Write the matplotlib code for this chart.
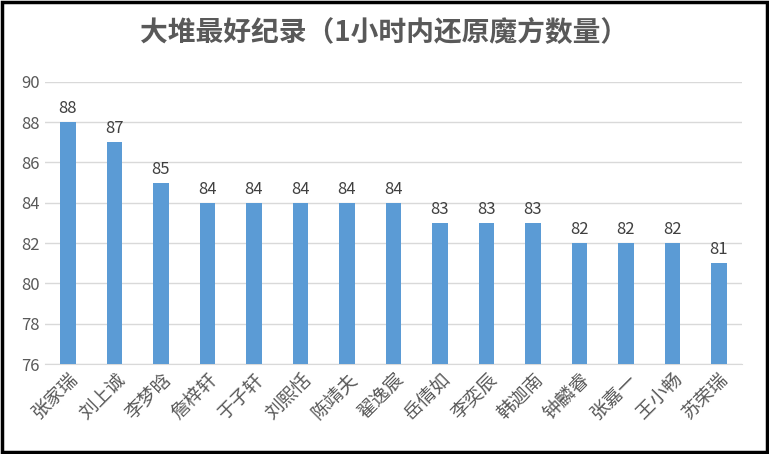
import matplotlib.pyplot as plt

names = ['张家瑞', '刘上诚', '李梦晗', '詹梓轩', '于子轩', '刘熙恬', '陈靖夫', '翟逸宸',
         '岳倩如', '李奕辰', '韩迦南', '钟麟睿', '张嘉一', '王小畅', '苏荣瑞']
scores = [88, 87, 85, 84, 84, 84, 84, 84, 83, 83, 83, 82, 82, 82, 81]
yticks = [76, 78, 80, 82, 84, 86, 88, 90]

plt.rcParams['font.family'] = ['Noto Sans CJK SC']
fig = plt.figure(figsize=(7.69, 4.54), dpi=100)
ax = fig.add_axes([0.058, 0.198, 0.907, 0.622])
x = range(len(names))
ax.bar(x, scores, width=0.33, color='#5B9BD5', zorder=3)
for i, v in zip(x, scores):
    ax.text(i, v + 0.25, str(v), ha='center', va='bottom', fontsize=12, color='#404040')
ax.set_ylim(76, 90)
ax.set_xlim(-0.5, len(names) - 0.5)
ax.set_yticks(yticks)
ax.tick_params(axis='y', length=0, labelsize=12, labelcolor='#595959')
ax.tick_params(axis='x', length=0)
ax.set_xticks(list(x))
ax.set_xticklabels(names, rotation=45, ha='right', rotation_mode='anchor',
                   fontsize=13.5, color='#595959')
ax.grid(axis='y', color='#D9D9D9', linewidth=1, zorder=0)
for s in ['top', 'right', 'left']:
    ax.spines[s].set_visible(False)
ax.spines['bottom'].set_color('#D9D9D9')
fig.text(0.5, 0.925, '大堆最好纪录（1小时内还原魔方数量）', ha='center', va='center',
         fontsize=20, fontweight='bold', color='#595959')
fig.patches.append(plt.Rectangle((0.003, 0.005), 0.994, 0.99, transform=fig.transFigure,
                                 fill=False, edgecolor='black', linewidth=2.5))
fig.savefig('out.png', dpi=100)
